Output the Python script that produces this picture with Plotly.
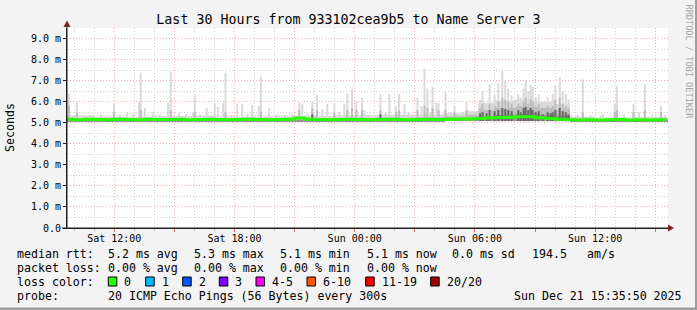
import plotly.graph_objects as go
import pandas as pd

# ---------------- data ----------------
title_text = "Last 30 Hours from 933102cea9b5 to Name Server 3"
x_start = "2025-12-20 09:38:20"
x_end = "2025-12-21 15:38:20"
x_tickvals = ["2025-12-20 12:00", "2025-12-20 15:00", "2025-12-20 18:00", "2025-12-20 21:00",
              "2025-12-21 00:00", "2025-12-21 03:00", "2025-12-21 06:00", "2025-12-21 09:00",
              "2025-12-21 12:00", "2025-12-21 15:00"]
x_ticktext = ["Sat 12:00", "", "Sat 18:00", "", "Sun 00:00", "", "Sun 06:00", "", "Sun 12:00", ""]
y_tickvals = [0, 1, 2, 3, 4, 5, 6, 7, 8, 9]
y_ticktext = ["0.0", "1.0 m", "2.0 m", "3.0 m", "4.0 m", "5.0 m", "6.0 m", "7.0 m", "8.0 m", "9.0 m"]

smoke_base = 5.08  # ms

# background haze of the smoke (segment start times, tops in ms)
haze_t = ["2025-12-20 09:30", "2025-12-20 11:00", "2025-12-20 14:00", "2025-12-20 17:00",
          "2025-12-20 20:00", "2025-12-20 23:00", "2025-12-21 01:00", "2025-12-21 03:00",
          "2025-12-21 04:30", "2025-12-21 05:30", "2025-12-21 06:10", "2025-12-21 07:00",
          "2025-12-21 08:00", "2025-12-21 09:00", "2025-12-21 10:00", "2025-12-21 10:45",
          "2025-12-21 12:00", "2025-12-21 14:00", "2025-12-21 16:00"]
haze_light = [5.35, 5.30, 5.32, 5.30, 5.33, 5.35, 5.38, 5.40, 5.45, 5.55, 5.95, 6.05, 6.10, 6.00, 5.90, 5.30, 5.25, 5.28]
haze_mid = [5.22, 5.20, 5.20, 5.20, 5.22, 5.22, 5.24, 5.26, 5.30, 5.38, 5.60, 5.70, 5.75, 5.70, 5.60, 5.20, 5.18, 5.18]
haze_dark = [5.12, 5.12, 5.12, 5.12, 5.13, 5.13, 5.14, 5.15, 5.18, 5.22, 5.32, 5.38, 5.42, 5.38, 5.34, 5.14, 5.12, 5.12]

# individual smoke spikes: time, max ping, mid layer, inner layer (ms)
spike_t = [
    "2025-12-20 09:44", "2025-12-20 10:08", "2025-12-20 10:23", "2025-12-20 10:47", "2025-12-20 11:20",
    "2025-12-20 11:59", "2025-12-20 12:17", "2025-12-20 12:38", "2025-12-20 12:56", "2025-12-20 13:14",
    "2025-12-20 13:19", "2025-12-20 13:32", "2025-12-20 13:56", "2025-12-20 14:17", "2025-12-20 14:41",
    "2025-12-20 14:49", "2025-12-20 15:14", "2025-12-20 15:35", "2025-12-20 15:56", "2025-12-20 16:01",
    "2025-12-20 16:17", "2025-12-20 16:37", "2025-12-20 17:01", "2025-12-20 17:10", "2025-12-20 17:26",
    "2025-12-20 17:33", "2025-12-20 17:50", "2025-12-20 18:08", "2025-12-20 18:23", "2025-12-20 18:38",
    "2025-12-20 18:53", "2025-12-20 19:13", "2025-12-20 19:19", "2025-12-20 19:44", "2025-12-20 20:05",
    "2025-12-20 20:32", "2025-12-20 20:53", "2025-12-20 21:14", "2025-12-20 21:23", "2025-12-20 21:38",
    "2025-12-20 21:53", "2025-12-20 22:07", "2025-12-20 22:23", "2025-12-20 22:38", "2025-12-20 22:59",
    "2025-12-20 23:13", "2025-12-20 23:29", "2025-12-20 23:38", "2025-12-20 23:52",
    "2025-12-21 00:05", "2025-12-21 00:22", "2025-12-21 00:29", "2025-12-21 00:41", "2025-12-21 01:17",
    "2025-12-21 01:32", "2025-12-21 01:44", "2025-12-21 02:04", "2025-12-21 02:13", "2025-12-21 02:29",
    "2025-12-21 02:41", "2025-12-21 03:08", "2025-12-21 03:20", "2025-12-21 03:29", "2025-12-21 03:38",
    "2025-12-21 03:47", "2025-12-21 03:53", "2025-12-21 04:05", "2025-12-21 04:11", "2025-12-21 04:29",
    "2025-12-21 04:32", "2025-12-21 04:47", "2025-12-21 04:59", "2025-12-21 05:23", "2025-12-21 05:35",
    "2025-12-21 05:53", "2025-12-21 06:08", "2025-12-21 06:16", "2025-12-21 06:23", "2025-12-21 06:35",
    "2025-12-21 06:44", "2025-12-21 06:59", "2025-12-21 07:10", "2025-12-21 07:22", "2025-12-21 07:31",
    "2025-12-21 07:40", "2025-12-21 07:50", "2025-12-21 08:10", "2025-12-21 08:17", "2025-12-21 08:26",
    "2025-12-21 08:32", "2025-12-21 08:40", "2025-12-21 08:47", "2025-12-21 08:53", "2025-12-21 09:02",
    "2025-12-21 09:11", "2025-12-21 09:23", "2025-12-21 09:38", "2025-12-21 09:47", "2025-12-21 09:53",
    "2025-12-21 10:01", "2025-12-21 10:14", "2025-12-21 10:23", "2025-12-21 10:32", "2025-12-21 10:40",
    "2025-12-21 10:50", "2025-12-21 11:08", "2025-12-21 11:23", "2025-12-21 11:47", "2025-12-21 12:17",
    "2025-12-21 12:23", "2025-12-21 12:59", "2025-12-21 13:05", "2025-12-21 13:26", "2025-12-21 13:55",
    "2025-12-21 14:11", "2025-12-21 14:29", "2025-12-21 14:50", "2025-12-21 15:17", "2025-12-21 15:29",
]
spike_max = [
    6.38, 5.95, 5.37, 5.37, 5.37, 5.90, 5.40, 5.50, 5.40, 5.95,
    7.38, 5.70, 5.50, 5.40, 5.95, 7.44, 5.50, 5.40, 5.50, 6.30,
    5.40, 5.70, 5.90, 5.75, 5.95, 7.38, 5.37, 5.90, 5.90, 5.40,
    5.85, 5.80, 7.19, 5.70, 5.40, 5.37, 5.40, 5.95, 5.90, 5.45,
    6.00, 6.33, 5.65, 5.90, 5.90, 5.50, 5.90, 6.38, 6.62,
    6.00, 6.19, 5.60, 5.37, 6.35, 5.50, 6.35, 5.80, 6.38, 5.90,
    5.50, 6.18, 5.80, 7.57, 6.62, 5.50, 6.70, 5.95, 5.95, 5.50,
    6.46, 5.50, 5.80, 5.50, 5.95, 5.50, 5.37, 6.10, 6.49, 5.80,
    6.81, 6.30, 6.85, 7.44, 7.00, 6.62, 6.30, 6.38, 6.20, 6.62,
    7.00, 6.50, 6.78, 6.70, 6.20, 6.35, 5.95, 6.20, 5.95, 6.38,
    6.78, 7.17, 6.50, 6.38, 6.10, 5.37, 5.37, 7.06, 5.35, 5.35,
    5.40, 5.90, 6.75, 5.40, 5.90, 5.50, 6.81, 5.40, 5.80, 5.37,
]
N = None
spike_mid = [
    5.84, 5.50, N, N, N, 5.50, N, N, N, N,
    5.60, N, N, N, N, 5.60, N, N, N, 5.50,
    N, N, N, N, N, 5.50, N, N, N, N,
    N, N, 5.50, N, N, N, N, 5.60, N, N,
    5.70, 5.60, N, N, 5.50, N, N, 5.60, 5.70,
    5.60, 5.60, N, N, 5.60, N, N, 5.50, 5.60, N,
    N, 5.60, N, 5.80, 5.70, N, 5.70, N, 5.60, N,
    5.60, N, 5.50, N, 5.60, N, N, 5.70, 5.90, 5.60,
    5.90, 5.80, 6.00, 6.20, 6.10, 6.00, 5.90, 5.90, 5.80, 6.00,
    6.20, 5.90, 6.10, 6.00, 5.80, 5.90, 5.60, 5.80, 5.70, 5.80,
    6.10, 6.20, 5.90, 5.80, 5.70, N, N, 5.50, N, N,
    N, 5.50, 5.60, N, 5.50, N, 5.60, N, 5.50, N,
]
spike_inner = [
    N, N, N, N, N, N, N, N, N, N,
    N, N, N, N, N, N, N, N, N, N,
    N, N, N, N, N, N, N, N, N, N,
    N, N, N, N, N, N, N, N, N, N,
    5.40, N, N, N, N, N, N, N, N,
    N, N, N, N, 5.40, N, N, N, N, N,
    N, N, N, N, N, N, N, N, N, N,
    N, N, N, N, N, N, N, 5.45, 5.50, 5.45,
    5.60, 5.55, 5.60, 5.70, 5.65, 5.60, 5.55, 5.60, 5.50, 5.70,
    5.75, 5.60, 5.70, 5.60, 5.50, 5.55, 5.40, 5.50, 5.45, 5.50,
    5.60, 5.70, 5.55, 5.50, 5.40, N, N, N, N, N,
    N, N, N, N, N, N, N, N, N, N,
]

# median rtt (ms), every 30 minutes
median_t = list(pd.date_range("2025-12-20 09:30", "2025-12-21 15:30", freq="30min"))
median_rtt = [
    5.16, 5.14, 5.16, 5.15, 5.14, 5.16, 5.15, 5.14, 5.16, 5.15,
    5.15, 5.16, 5.14, 5.15, 5.16, 5.15, 5.14, 5.15, 5.16, 5.15,
    5.14, 5.15, 5.16, 5.22, 5.17, 5.15, 5.14, 5.15, 5.16, 5.15,
    5.14, 5.15, 5.16, 5.15, 5.14, 5.15, 5.16, 5.15, 5.17, 5.18,
    5.18, 5.20, 5.24, 5.25, 5.26, 5.28, 5.28, 5.24, 5.20, 5.16,
    5.14, 5.13, 5.14, 5.13, 5.14, 5.15, 5.13, 5.14, 5.13, 5.14, 5.13,
]

legend_rows = [
    ["median rtt:", "5.2 ms avg", "5.3 ms max", "5.1 ms min", "5.1 ms now", "0.0 ms sd", "194.5", "am/s"],
    ["packet loss:", "0.00 % avg", "0.00 % max", "0.00 % min", "0.00 % now"],
]
loss_labels = ["0", "1", "2", "3", "4-5", "6-10", "11-19", "20/20"]
loss_colors = ["#26ff00", "#00b8ff", "#0059ff", "#7e00ff", "#ff00ff", "#ff5500", "#ff0000", "#a10000"]
probe_text = "20 ICMP Echo Pings (56 Bytes) every 300s"
date_text = "Sun Dec 21 15:35:50 2025"

# ---------------- layout helpers (pixel -> paper) ----------------
W, H = 697, 310
L, R, T, B = 67, 668, 28, 228
def px(x):
    return (x - L) / (R - L)
def py(y):
    return (B - y) / (B - T)

MONO = "DejaVu Sans Mono"
C_LIGHT, C_MID, C_DARK, C_INNER = "#dadada", "#bdbdbd", "#959595", "#666666"

fig = go.Figure()

ht = pd.to_datetime(haze_t)
hw = [(ht[i + 1] - ht[i]).total_seconds() * 1000 for i in range(len(ht) - 1)]
hx = list(ht[:-1])

def add_haze(vals, color):
    fig.add_trace(go.Bar(x=hx, y=[v - smoke_base for v in vals], base=smoke_base, width=hw,
                         offset=0, marker=dict(color=color, line=dict(width=0)),
                         hoverinfo="skip", showlegend=False))

def add_spikes(vals, color):
    xs = [t for t, v in zip(spike_t, vals) if v is not None]
    ys = [v - smoke_base for v in vals if v is not None]
    fig.add_trace(go.Bar(x=xs, y=ys, base=smoke_base, width=360000,
                         marker=dict(color=color, line=dict(width=0)),
                         hoverinfo="skip", showlegend=False))

add_haze(haze_light, C_LIGHT)
add_spikes(spike_max, C_LIGHT)
add_haze(haze_mid, C_MID)
add_spikes(spike_mid, C_MID)
add_haze(haze_dark, C_DARK)
add_spikes(spike_inner, C_INNER)

fig.add_trace(go.Scatter(x=median_t, y=median_rtt, mode="lines", line=dict(color="#26ff00", width=3, shape="hv"),
                         hoverinfo="skip", showlegend=False))

grid_red = "#f2b0b0"
grid_gray = "#d2d2d2"

fig.update_layout(
    width=W, height=H,
    margin=dict(l=L, r=W - R, t=T, b=H - B),
    paper_bgcolor="#f3f3f3", plot_bgcolor="#ffffff",
    barmode="overlay",
    title=dict(text=title_text, x=0.5, xref="container", xanchor="center",
               y=1 - 19 / H, yref="container", yanchor="middle",
               font=dict(family=MONO, size=13.3, color="#000000")),
    font=dict(family=MONO, color="#000000"),
    xaxis=dict(type="date", range=[x_start, x_end], tickmode="array", tickvals=x_tickvals, ticktext=x_ticktext,
               showgrid=True, gridcolor=grid_red, griddash="1px,2px", gridwidth=1,
               ticks="outside", ticklen=3, tickcolor="#e07070", tickwidth=1,
               ticklabelstandoff=-2,
               tickfont=dict(family=MONO, size=10, color="#000000"),
               showline=True, linecolor="#202020", linewidth=1, zeroline=False,
               minor=dict(dtick=3600000, tick0="2025-12-20 12:00", showgrid=True, gridcolor=grid_gray,
                          griddash="1px,2px", gridwidth=1, ticks="outside", ticklen=2, tickcolor="#b8b8b8")),
    yaxis=dict(range=[0, 9.5], tickmode="array", tickvals=y_tickvals, ticktext=y_ticktext,
               showgrid=True, gridcolor=grid_red, griddash="1px,2px", gridwidth=1,
               ticks="outside", ticklen=3, tickcolor="#202020",
               tickfont=dict(family=MONO, size=10, color="#000000"),
               showline=True, linecolor="#202020", linewidth=1, zeroline=False,
               minor=dict(dtick=0.5, tick0=0, showgrid=True, gridcolor=grid_gray, griddash="1px,2px", gridwidth=1)),
)

shapes = []
shapes.append(dict(type="line", xref="paper", yref="paper", x0=px(67), x1=px(67), y0=py(228), y1=py(25),
                   line=dict(color="#202020", width=1)))
shapes.append(dict(type="line", xref="paper", yref="paper", x0=px(62), x1=px(670), y0=py(228), y1=py(228),
                   line=dict(color="#202020", width=1)))
shapes.append(dict(type="path", xref="paper", yref="paper",
                   path=f"M {px(67)} {py(20.5)} L {px(63.5)} {py(27)} L {px(70.5)} {py(27)} Z",
                   fillcolor="#7f1f1f", line=dict(width=0)))
shapes.append(dict(type="path", xref="paper", yref="paper",
                   path=f"M {px(674)} {py(228)} L {px(668)} {py(224.5)} L {px(668)} {py(231.5)} Z",
                   fillcolor="#7f1f1f", line=dict(width=0)))
shapes.append(dict(type="rect", xref="paper", yref="paper", x0=px(695), x1=px(697), y0=py(0), y1=py(310),
                   fillcolor="#9e9e9e", line=dict(width=0)))
shapes.append(dict(type="rect", xref="paper", yref="paper", x0=px(0), x1=px(697), y0=py(307.5), y1=py(310),
                   fillcolor="#9e9e9e", line=dict(width=0)))

annotations = []
def text_at(x, y, s, size=11.6, color="#000000", anchor="left", angle=0):
    annotations.append(dict(x=px(x), y=py(y), xref="paper", yref="paper", text=s, showarrow=False,
                            xanchor=anchor, yanchor="middle", textangle=angle,
                            font=dict(family=MONO, size=size, color=color), borderpad=0))

text_at(10, 128, "Seconds", size=11.6, anchor="center", angle=-90)
text_at(688.5, 62, "RRDTOOL / TOBI OETIKER", size=8.6, color="#a8a8a8", anchor="center", angle=90)

row1_x = [16, 107.3, 193.3, 279.3, 365.7, 451, 530.7, 586]
for x, s in zip(row1_x, legend_rows[0]):
    text_at(x, 254, s)
row2_x = [16, 107.3, 193.3, 279.3, 365.7]
for x, s in zip(row2_x, legend_rows[1]):
    text_at(x, 268, s)
text_at(16, 282, "loss color:")
sq_x = [108.3, 145.7, 182.7, 219.3, 256, 307, 365.7, 430.7]
for x, lab, col in zip(sq_x, loss_labels, loss_colors):
    shapes.append(dict(type="rect", xref="paper", yref="paper", x0=px(x), x1=px(x + 8.5),
                       y0=py(277), y1=py(286), fillcolor=col, line=dict(color="#000000", width=1)))
    text_at(x + 15, 282, lab)
text_at(16, 296, "probe:")
text_at(107.3, 296, probe_text)
text_at(513.3, 296, date_text)

fig.update_layout(shapes=shapes, annotations=annotations)
fig.write_html("out.html")
